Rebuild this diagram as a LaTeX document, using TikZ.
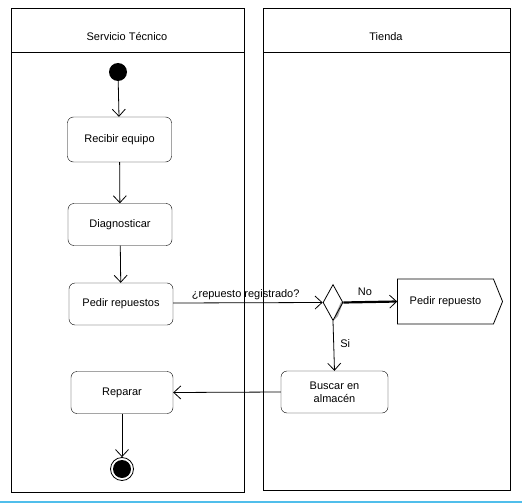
\documentclass[tikz,border=0pt]{standalone}
\usepackage{fontspec}
\setmainfont{Liberation Sans}
\usetikzlibrary{arrows.meta,shapes.geometric,shapes.symbols}
\definecolor{bottomline}{RGB}{80,190,235}
\begin{document}
\begin{tikzpicture}[x=1pt,y=-1pt,
  every node/.style={font=\fontsize{11}{13}\selectfont},
  act/.style={draw,rounded corners=6pt,minimum width=104pt,minimum height=42pt,inner sep=1pt,align=center},
  flow/.style={-{Straight Barb[length=7pt,width=13pt]},line width=0.8pt},
  lane/.style={draw,line width=0.9pt}]
\useasboundingbox (0,0) rectangle (522,503);
\draw[bottomline,line width=1.5pt] (0,502) -- (522,502);
% lanes
\draw[lane] (11,8) rectangle (244,492);
\draw[lane] (11,52) -- (244,52);
\draw[lane] (263,8) rectangle (510,490);
\draw[lane] (263,52) -- (510,52);
\node (l1) at (127,37) {Servicio Técnico};
\node (l2) at (386,37) {Tienda};
% nodes
\node[circle,fill=black,minimum size=18pt,inner sep=0pt] (start) at (118,72) {};
\node[act,minimum height=45pt] (rec) at (119.5,139.5) {Recibir equipo};
\node[act] (diag) at (120,224.5) {Diagnosticar};
\node[act] (ped) at (121,304) {Pedir repuestos};
\node[act,minimum width=102pt] (rep) at (122,392.5) {Reparar};
\node[circle,draw,line width=0.8pt,minimum size=23pt,inner sep=0pt] (fin) at (122,469) {};
\node[circle,fill=black,minimum size=18pt,inner sep=0pt] at (fin) {};
% decision
\fill[gray!70] (343,302.5) -- (338,316) -- (333,321) -- (336,313) -- (341,302) -- cycle;
\node[diamond,draw,line width=0.8pt,minimum width=20pt,minimum height=36pt,inner sep=0pt,aspect=0.55] (dec) at (333,302.5) {};
\node[draw,line width=0.8pt,shape=signal,signal to=east,signal pointer angle=136,minimum width=105pt,minimum height=45pt,inner sep=1pt] (pr) at (445.5,301.5) {Pedir repuesto};
\node[act,minimum width=107pt] (bus) at (334.5,392) {Buscar en\\almacén};
% connectors
\draw[flow] (start) -- (rec);
\draw[flow] (rec) -- (diag);
\draw[flow] (diag) -- (ped);
\draw[flow] (ped.east |- 0,303) -- node[above,pos=0.1,anchor=south west,yshift=-1pt] {¿repuesto registrado?} (dec.west);
\draw[flow,line width=2.2pt,-{Straight Barb[length=7pt,width=13pt,line width=0.8pt]}] (dec.east) -- node[above=2pt,pos=0.4] {No} (pr.west);
\draw[flow] (dec.south) -- node[right=3pt,pos=0.45] {Si} (bus.north);
\draw[flow] (bus.west) -- (rep.east);
\draw[flow] (rep.south) -- (fin.north);
\end{tikzpicture}
\end{document}
